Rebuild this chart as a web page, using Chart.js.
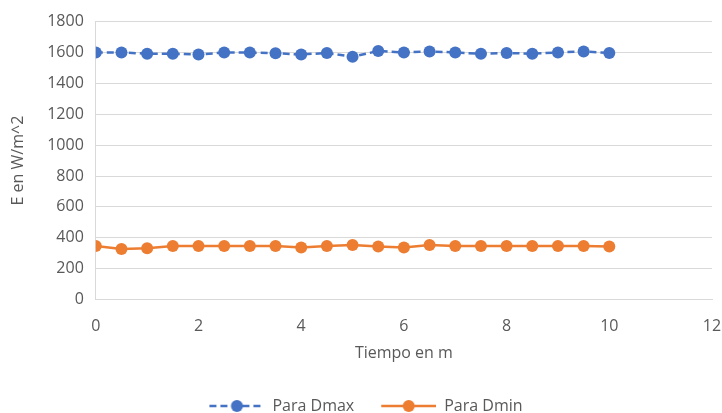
<!DOCTYPE html>
<html>
<head>
    <title>E vs Tiempo</title>
    <script src="https://cdn.jsdelivr.net/npm/chart.js"></script>
    <style>
        html, body { margin: 0; padding: 0; background: #fff; }
        #wrap { width: 722px; height: 413px; }
    </style>
</head>
<body>
    <div id="wrap"><canvas id="chart"></canvas></div>

    <script>
        // tiempo (m)
        const tiempo = [0, 0.5, 1, 1.5, 2, 2.5, 3, 3.5, 4, 4.5, 5, 5.5, 6, 6.5, 7, 7.5, 8, 8.5, 9, 9.5, 10];
        // E en W/m^2
        const paraDmax = [1600, 1600, 1592, 1592, 1587, 1600, 1600, 1595, 1587, 1597, 1572, 1610, 1600, 1607, 1600, 1592, 1597, 1592, 1600, 1607, 1597];
        const paraDmin = [347, 327, 333, 347, 347, 347, 347, 347, 338, 347, 353, 344, 338, 353, 347, 347, 347, 347, 347, 347, 344];
        const yTicks = [0, 200, 400, 600, 800, 1000, 1200, 1400, 1600, 1800];
        const xTicks = [0, 2, 4, 6, 8, 10, 12];

        const BLUE = '#4472C4';
        const ORANGE = '#ED7D31';
        const GREY = '#595959';
        const FONT = '"Open Sans", "Noto Sans", sans-serif';

        // legend glyph: blank gap on the left, then line with a dot in the middle
        const GAP = 24, ICON = 55;
        function legendIcon(color, dashed) {
            const c = document.createElement('canvas');
            c.width = GAP + ICON; c.height = 14;
            const g = c.getContext('2d');
            g.strokeStyle = color;
            g.lineWidth = 2.5;
            if (dashed) g.setLineDash([7, 4]);
            g.beginPath();
            g.moveTo(GAP, 7); g.lineTo(GAP + ICON, 7);
            g.stroke();
            g.fillStyle = color;
            g.beginPath();
            g.arc(GAP + ICON / 2, 7, 6, 0, Math.PI * 2);
            g.fill();
            return c;
        }

        function toPoints(ys) {
            return ys.map((y, i) => ({ x: tiempo[i], y: y }));
        }

        const ctx = document.getElementById('chart').getContext('2d');
        new Chart(ctx, {
            type: 'line',
            data: {
                datasets: [{
                    label: 'Para Dmax',
                    data: toPoints(paraDmax),
                    borderColor: BLUE,
                    backgroundColor: BLUE,
                    borderWidth: 2.5,
                    borderDash: [7, 4],
                    pointRadius: 6,
                    pointHoverRadius: 6,
                    pointBorderWidth: 0,
                    fill: false,
                    tension: 0
                }, {
                    label: 'Para Dmin',
                    data: toPoints(paraDmin),
                    borderColor: ORANGE,
                    backgroundColor: ORANGE,
                    borderWidth: 2.5,
                    pointRadius: 6,
                    pointHoverRadius: 6,
                    pointBorderWidth: 0,
                    fill: false,
                    tension: 0
                }]
            },
            options: {
                responsive: true,
                maintainAspectRatio: false,
                animation: false,
                layout: { padding: { left: -14, right: 0, top: 2, bottom: -11 } },
                scales: {
                    x: {
                        type: 'linear',
                        min: 0,
                        max: 12,
                        afterBuildTicks: axis => { axis.ticks = xTicks.map(v => ({ value: v })); },
                        afterFit: axis => { axis.paddingRight = 10; },
                        grid: { display: false, drawTicks: false },
                        border: { color: '#d9d9d9', width: 1 },
                        ticks: { color: GREY, font: { family: FONT, size: 16 }, padding: 17, callback: v => String(v) },
                        title: { display: true, text: 'Tiempo en m', color: GREY, font: { family: FONT, size: 16 }, padding: { top: -9, bottom: 32 } }
                    },
                    y: {
                        min: 0,
                        max: 1800,
                        afterBuildTicks: axis => { axis.ticks = yTicks.map(v => ({ value: v })); },
                        grid: { color: '#d9d9d9', drawTicks: false },
                        border: { color: '#d9d9d9', width: 1 },
                        ticks: { color: GREY, font: { family: FONT, size: 16 }, padding: 12, callback: v => String(v) },
                        title: { display: true, text: 'E en W/m^2', color: GREY, font: { family: FONT, size: 16 }, padding: { top: 23, bottom: 7 } }
                    }
                },
                plugins: {
                    tooltip: { enabled: false },
                    legend: {
                        position: 'bottom',
                        labels: {
                            color: GREY,
                            font: { family: FONT, size: 16 },
                            usePointStyle: true,
                            pointStyleWidth: GAP + ICON,
                            padding: 3,
                            generateLabels: chart => chart.data.datasets.map((ds, i) => ({
                                text: ds.label,
                                fontColor: GREY,
                                pointStyle: legendIcon(ds.borderColor, i === 0),
                                datasetIndex: i,
                                lineWidth: 0,
                                strokeStyle: 'transparent',
                                fillStyle: ds.borderColor
                            }))
                        }
                    }
                }
            }
        });
    </script>
</body>
</html>
